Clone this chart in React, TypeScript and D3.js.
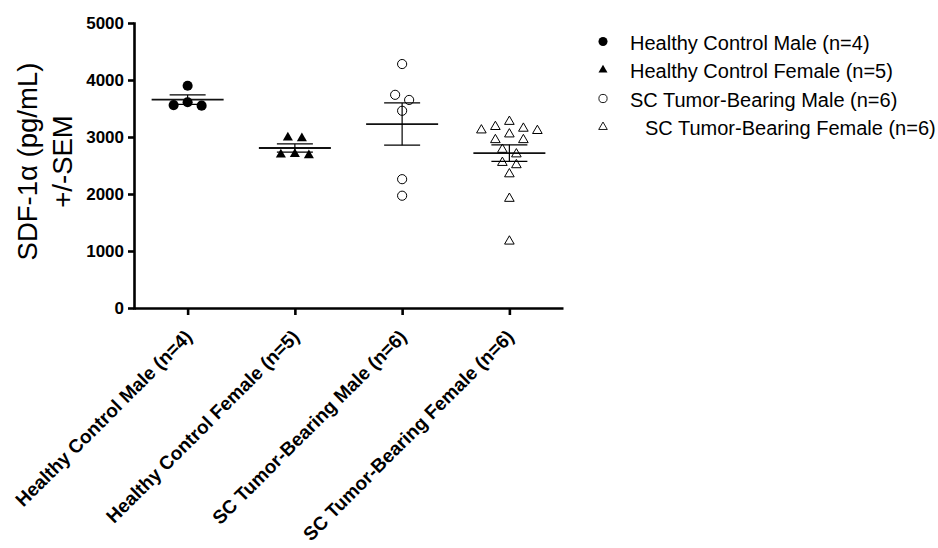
import React from "react";
import * as d3 from "d3";

const categories = [
  "Healthy Control Male (n=4)",
  "Healthy Control Female (n=5)",
  "SC Tumor-Bearing Male (n=6)",
  "SC Tumor-Bearing Female (n=6)",
];

// SDF-1a values (pg/mL)
const hcMale = [3900, 3610, 3560, 3550];
const hcFemale = [2990, 2975, 2700, 2690, 2680];
const scMale = [4280, 3740, 3650, 3460, 2260, 1970];
const scFemale = [
  3270, 3180, 3150, 3120, 3110, 3050, 2950, 2950, 2780, 2700, 2550, 2510,
  2350, 1920, 1170,
];

const yTicks = [0, 1000, 2000, 3000, 4000, 5000];
const yTitle = ["SDF-1\u03b1 (pg/mL)", "+/-SEM"];

const FONT = "'Liberation Sans', Arial, Helvetica, sans-serif";

/* spread points of one column sideways, GraphPad style rows */
function swarm(values: number[], y: any, rowH: number, step: number) {
  const sorted = values
    .map((v) => ({ v, py: y(v) }))
    .sort((a, b) => a.py - b.py);
  const rows: any[][] = [];
  sorted.forEach((p) => {
    const row = rows[rows.length - 1];
    if (row && p.py - row[0].py < rowH) row.push(p);
    else rows.push([p]);
  });
  const out: any[] = [];
  rows.forEach((row) => {
    const n = row.length;
    row.forEach((p, i) => {
      let k;
      if (n % 2) k = i === 0 ? 0 : i % 2 ? -Math.ceil(i / 2) : Math.ceil(i / 2);
      else k = (i % 2 ? 1 : -1) * (Math.floor(i / 2) + 0.5);
      out.push({ ...p, dx: k * step });
    });
  });
  return out;
}

export default function App() {
  const svgRef = React.useRef<SVGSVGElement>(null);
  const width = 938;
  const height = 548;

  React.useEffect(() => {
    const svg = d3.select(svgRef.current);
    svg.selectAll("*").remove();

    const groups = [
      { name: categories[0], values: hcMale, shape: d3.symbolCircle, size: 80, filled: true },
      { name: categories[1], values: hcFemale, shape: d3.symbolTriangle, size: 44, filled: true },
      { name: categories[2], values: scMale, shape: d3.symbolCircle, size: 66, filled: false },
      { name: categories[3], values: scFemale, shape: d3.symbolTriangle, size: 40, filled: false },
    ];

    const x = d3.scalePoint().domain(categories).range([134, 563]).padding(0.5);
    const y = d3.scaleLinear().domain([0, 5000]).range([308, 23]);

    /* mean and SEM */
    const g = svg.append("g");
    groups.forEach((grp) => {
      const cx = x(grp.name) as number;
      const m = d3.mean(grp.values) as number;
      const sem = (d3.deviation(grp.values) as number) / Math.sqrt(grp.values.length);

      g.append("line")
        .attr("x1", cx - 36).attr("x2", cx + 36)
        .attr("y1", y(m)).attr("y2", y(m))
        .attr("stroke", "#111").attr("stroke-width", 1.8);
      g.append("line")
        .attr("x1", cx).attr("x2", cx)
        .attr("y1", y(m - sem)).attr("y2", y(m + sem))
        .attr("stroke", "#000").attr("stroke-width", 1.2);
      [m - sem, m + sem].forEach((v) => {
        g.append("line")
          .attr("x1", cx - 18).attr("x2", cx + 18)
          .attr("y1", y(v)).attr("y2", y(v))
          .attr("stroke", "#000").attr("stroke-width", 1.2);
      });

      const pts = swarm(grp.values, y, 9.5, 14);
      g.selectAll(null)
        .data(pts)
        .enter()
        .append("path")
        .attr("d", d3.symbol().type(grp.shape).size(grp.size)())
        .attr("transform", (d) => `translate(${cx + d.dx},${d.py})`)
        .attr("fill", grp.filled ? "#000" : "none")
        .attr("stroke", "#000")
        .attr("stroke-width", grp.filled ? 0 : 1);
    });

    /* axes */
    const yAxis = svg
      .append("g")
      .attr("transform", "translate(134,0)")
      .call(
        d3.axisLeft(y)
          .tickValues(yTicks)
          .tickFormat(d3.format("d"))
          .tickSize(6)
          .tickSizeOuter(0)
          .tickPadding(4)
      );
    yAxis.selectAll("path,line").attr("stroke", "#000").attr("stroke-width", 2.6);
    yAxis.select(".domain").attr("stroke-linecap", "square");
    yAxis.selectAll("text")
      .attr("font-family", FONT)
      .attr("font-size", 17)
      .attr("font-weight", "bold")
      .attr("fill", "#000");

    const xAxis = svg
      .append("g")
      .attr("transform", "translate(0,308)")
      .call(d3.axisBottom(x).tickSize(7).tickSizeOuter(0));
    xAxis.selectAll("path,line").attr("stroke", "#000").attr("stroke-width", 2.6);
    xAxis.selectAll("text")
      .attr("x", 0).attr("y", 0).attr("dy", 0)
      .attr("transform", "translate(5,30) rotate(-45)")
      .style("text-anchor", "end")
      .attr("font-family", FONT)
      .attr("font-size", 19)
      .attr("font-weight", "bold")
      .attr("fill", "#000");

    /* y title */
    yTitle.forEach((t, i) => {
      svg.append("text")
        .attr("transform", `translate(${37 + i * 35},161.5) rotate(-90)`)
        .attr("text-anchor", "middle")
        .attr("font-family", FONT)
        .attr("font-size", 27.5)
        .attr("fill", "#000")
        .text(t);
    });

    /* legend */
    const legend = svg.append("g");
    groups.forEach((grp, i) => {
      const by = 49.5 + i * 28.5;
      legend.append("path")
        .attr("d", d3.symbol().type(grp.shape).size(grp.size * 0.8)())
        .attr("transform", `translate(603,${by - 8})`)
        .attr("fill", grp.filled ? "#000" : "none")
        .attr("stroke", "#000")
        .attr("stroke-width", grp.filled ? 0 : 0.9);
      legend.append("text")
        .attr("x", i === 3 ? 645 : 630)
        .attr("y", by)
        .attr("font-family", FONT)
        .attr("font-size", 20)
        .attr("fill", "#000")
        .text(grp.name);
    });
  }, []);

  return (
    <svg
      ref={svgRef}
      width={width}
      height={height}
      style={{ position: "absolute", left: 0, top: 0, background: "#fff" }}
    />
  );
}
